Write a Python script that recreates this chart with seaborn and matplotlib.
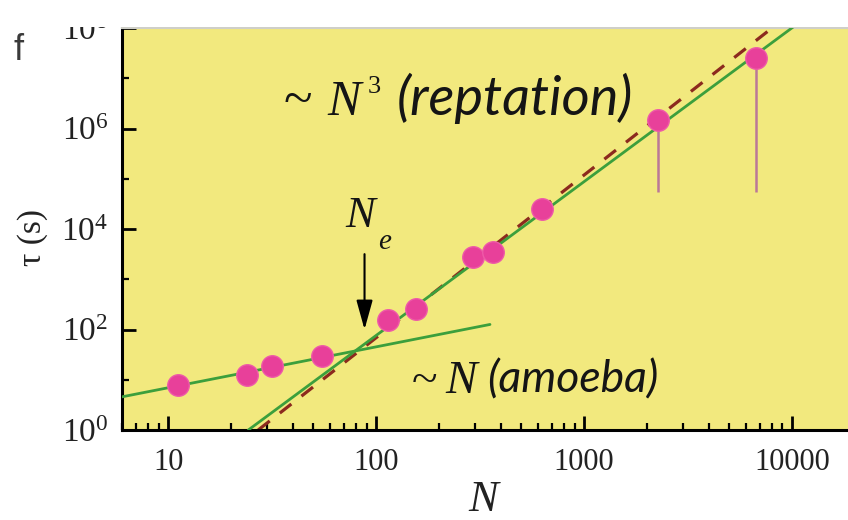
import numpy as np
import pandas as pd
import matplotlib
matplotlib.use("Agg")
import matplotlib.pyplot as plt
from matplotlib.ticker import LogLocator, FuncFormatter, NullFormatter
from matplotlib.patches import Rectangle
import seaborn as sns

# Relaxation time vs chain length N
chain_N = [11.2, 23.9, 31.5, 54.8, 114.5, 155.6, 294, 366, 627, 2275, 6690]
tau_s = [7.94, 12.6, 18.5, 29.2, 158, 259, 2716, 3420, 25100, 1.47e6, 2.51e7]

# lower extent of the error bars on the two longest chains
err_N = [2275, 6690]
err_low = [5.4e4, 5.4e4]
err_high = [1.47e6, 2.51e7]

# power-law guides
amoeba_N = [6.0, 353]
amoeba_tau = [4.57, 126]
rept_N = [24.3, 10300]
rept_tau = [1.0, 1.1e8]
rept_dash_N = [27.1, 8020]
rept_dash_tau = [1.0, 1.0e8]

# entanglement length marker
Ne = 88
Ne_arrow_tau = [3160, 100]

xticks = [10, 100, 1000, 10000]
yticks = [1, 1e2, 1e4, 1e6, 1e8]

sns.set_style("ticks")
plt.rcParams["mathtext.fontset"] = "custom"
plt.rcParams["mathtext.rm"] = "Liberation Serif"
plt.rcParams["mathtext.it"] = "Liberation Serif:italic"
plt.rcParams["font.family"] = ["Liberation Serif", "DejaVu Sans"]

yellow = "#f2e97e"
pink = "#e8409a"
green = "#3c9f3c"
brown = "#8c2a1e"
mauve = "#bb7898"
ink = "#151515"

fig = plt.figure(figsize=(8.48, 5.2), dpi=100)
ax = fig.add_axes([122 / 848, 90 / 520, 726 / 848, 402 / 520])
ax.set_facecolor(yellow)
ax.set_xscale("log")
ax.set_yscale("log")
ax.set_xlim(6.0, 18600)
ax.set_ylim(1, 1e8)

# guide lines
sns.lineplot(x=rept_dash_N, y=rept_dash_tau, ax=ax, color=brown, lw=2.3,
             linestyle=(0, (4.6, 4.0)), zorder=2)
sns.lineplot(x=rept_N, y=rept_tau, ax=ax, color=green, lw=2.0, zorder=3)
sns.lineplot(x=amoeba_N, y=amoeba_tau, ax=ax, color=green, lw=2.0, zorder=3)

# error bars and data
ax.vlines(err_N, err_low, err_high, color=mauve, lw=1.8, zorder=4)
df = pd.DataFrame({"N": chain_N, "tau": tau_s})
sns.scatterplot(data=df, x="N", y="tau", ax=ax, s=240, color=pink,
                edgecolor="#ee5aa8", linewidth=1.0, zorder=5, legend=False)

# entanglement arrow and label
ax.annotate("", xy=(Ne, Ne_arrow_tau[1]), xytext=(Ne, Ne_arrow_tau[0]),
            arrowprops=dict(arrowstyle="-|>,head_length=1.8,head_width=0.5",
                            color="black", lw=1.5, shrinkA=0, shrinkB=0),
            zorder=6)
ax.text(85.7, 1.1e4, "$N$", fontsize=32, ha="center", va="baseline", color=ink)
ax.text(102, 3980, "$e$", fontsize=21, ha="left", va="baseline", color=ink)

# scaling-law labels
ax.text(35.7, 1.82e6, "~", fontsize=38, ha="left", va="baseline", color=ink)
ax.text(58.1, 1.82e6, "$N$", fontsize=36, ha="left", va="baseline", color=ink)
ax.text(91, 5.0e6, "3", fontsize=19, ha="left", va="baseline", color=ink)
ax.text(126, 1.82e6, "(reptation)", fontsize=39, ha="left", va="baseline",
        family="Lato", style="italic", color=ink)

ax.text(149, 5.5, "~", fontsize=34, ha="left", va="baseline", color=ink)
ax.text(215, 5.5, "$N$", fontsize=34, ha="left", va="baseline", color=ink)
ax.text(342, 5.5, "(amoeba)", fontsize=32, ha="left", va="baseline",
        family="Lato", style="italic", color=ink)

# axes styling
for side in ["left", "bottom"]:
    ax.spines[side].set_linewidth(2.2)
    ax.spines[side].set_color("black")
ax.spines["right"].set_visible(False)
ax.spines["top"].set_color("#cfcfc8")
ax.spines["top"].set_linewidth(1.5)

ax.xaxis.set_minor_locator(LogLocator(base=10, subs=np.arange(2, 10)))
ax.xaxis.set_minor_formatter(NullFormatter())
ax.set_xticks(xticks)
ax.xaxis.set_major_formatter(FuncFormatter(lambda v, p: "%d" % round(v)))

ax.set_yticks(yticks)
ax.yaxis.set_minor_locator(LogLocator(base=100, subs=(10,)))
ax.yaxis.set_minor_formatter(NullFormatter())
ax.yaxis.set_major_formatter(
    FuncFormatter(lambda v, p: r"$\mathregular{10^{%d}}$" % round(np.log10(v))))

ax.tick_params(which="major", direction="in", length=10, width=2.0,
               color="black", top=False, right=False)
ax.tick_params(which="minor", direction="in", length=5, width=1.6,
               color="black", top=False, right=False)
ax.tick_params(axis="x", which="major", labelsize=22, pad=13, labelcolor="#222222")
ax.tick_params(axis="y", which="major", labelsize=24, pad=10, labelcolor="#222222")

ax.set_xlabel("$N$", fontsize=32, labelpad=2, color="#222222")
ax.set_ylabel("")
fig.text(33 / 848, (520 - 237) / 520, "τ (s)", fontsize=24, rotation=90,
         ha="center", va="center", color="#222222")

fig.text(14 / 848, (520 - 60) / 520, "f", fontsize=26, family="Liberation Sans",
         color="#3a3a3a", va="baseline")

# trim above the plotting area
fig.add_artist(Rectangle((0, 1 - 27 / 520), 1, 27 / 520, transform=fig.transFigure,
                         facecolor="white", edgecolor="none", zorder=20))

fig.savefig("out.png", dpi=100)
